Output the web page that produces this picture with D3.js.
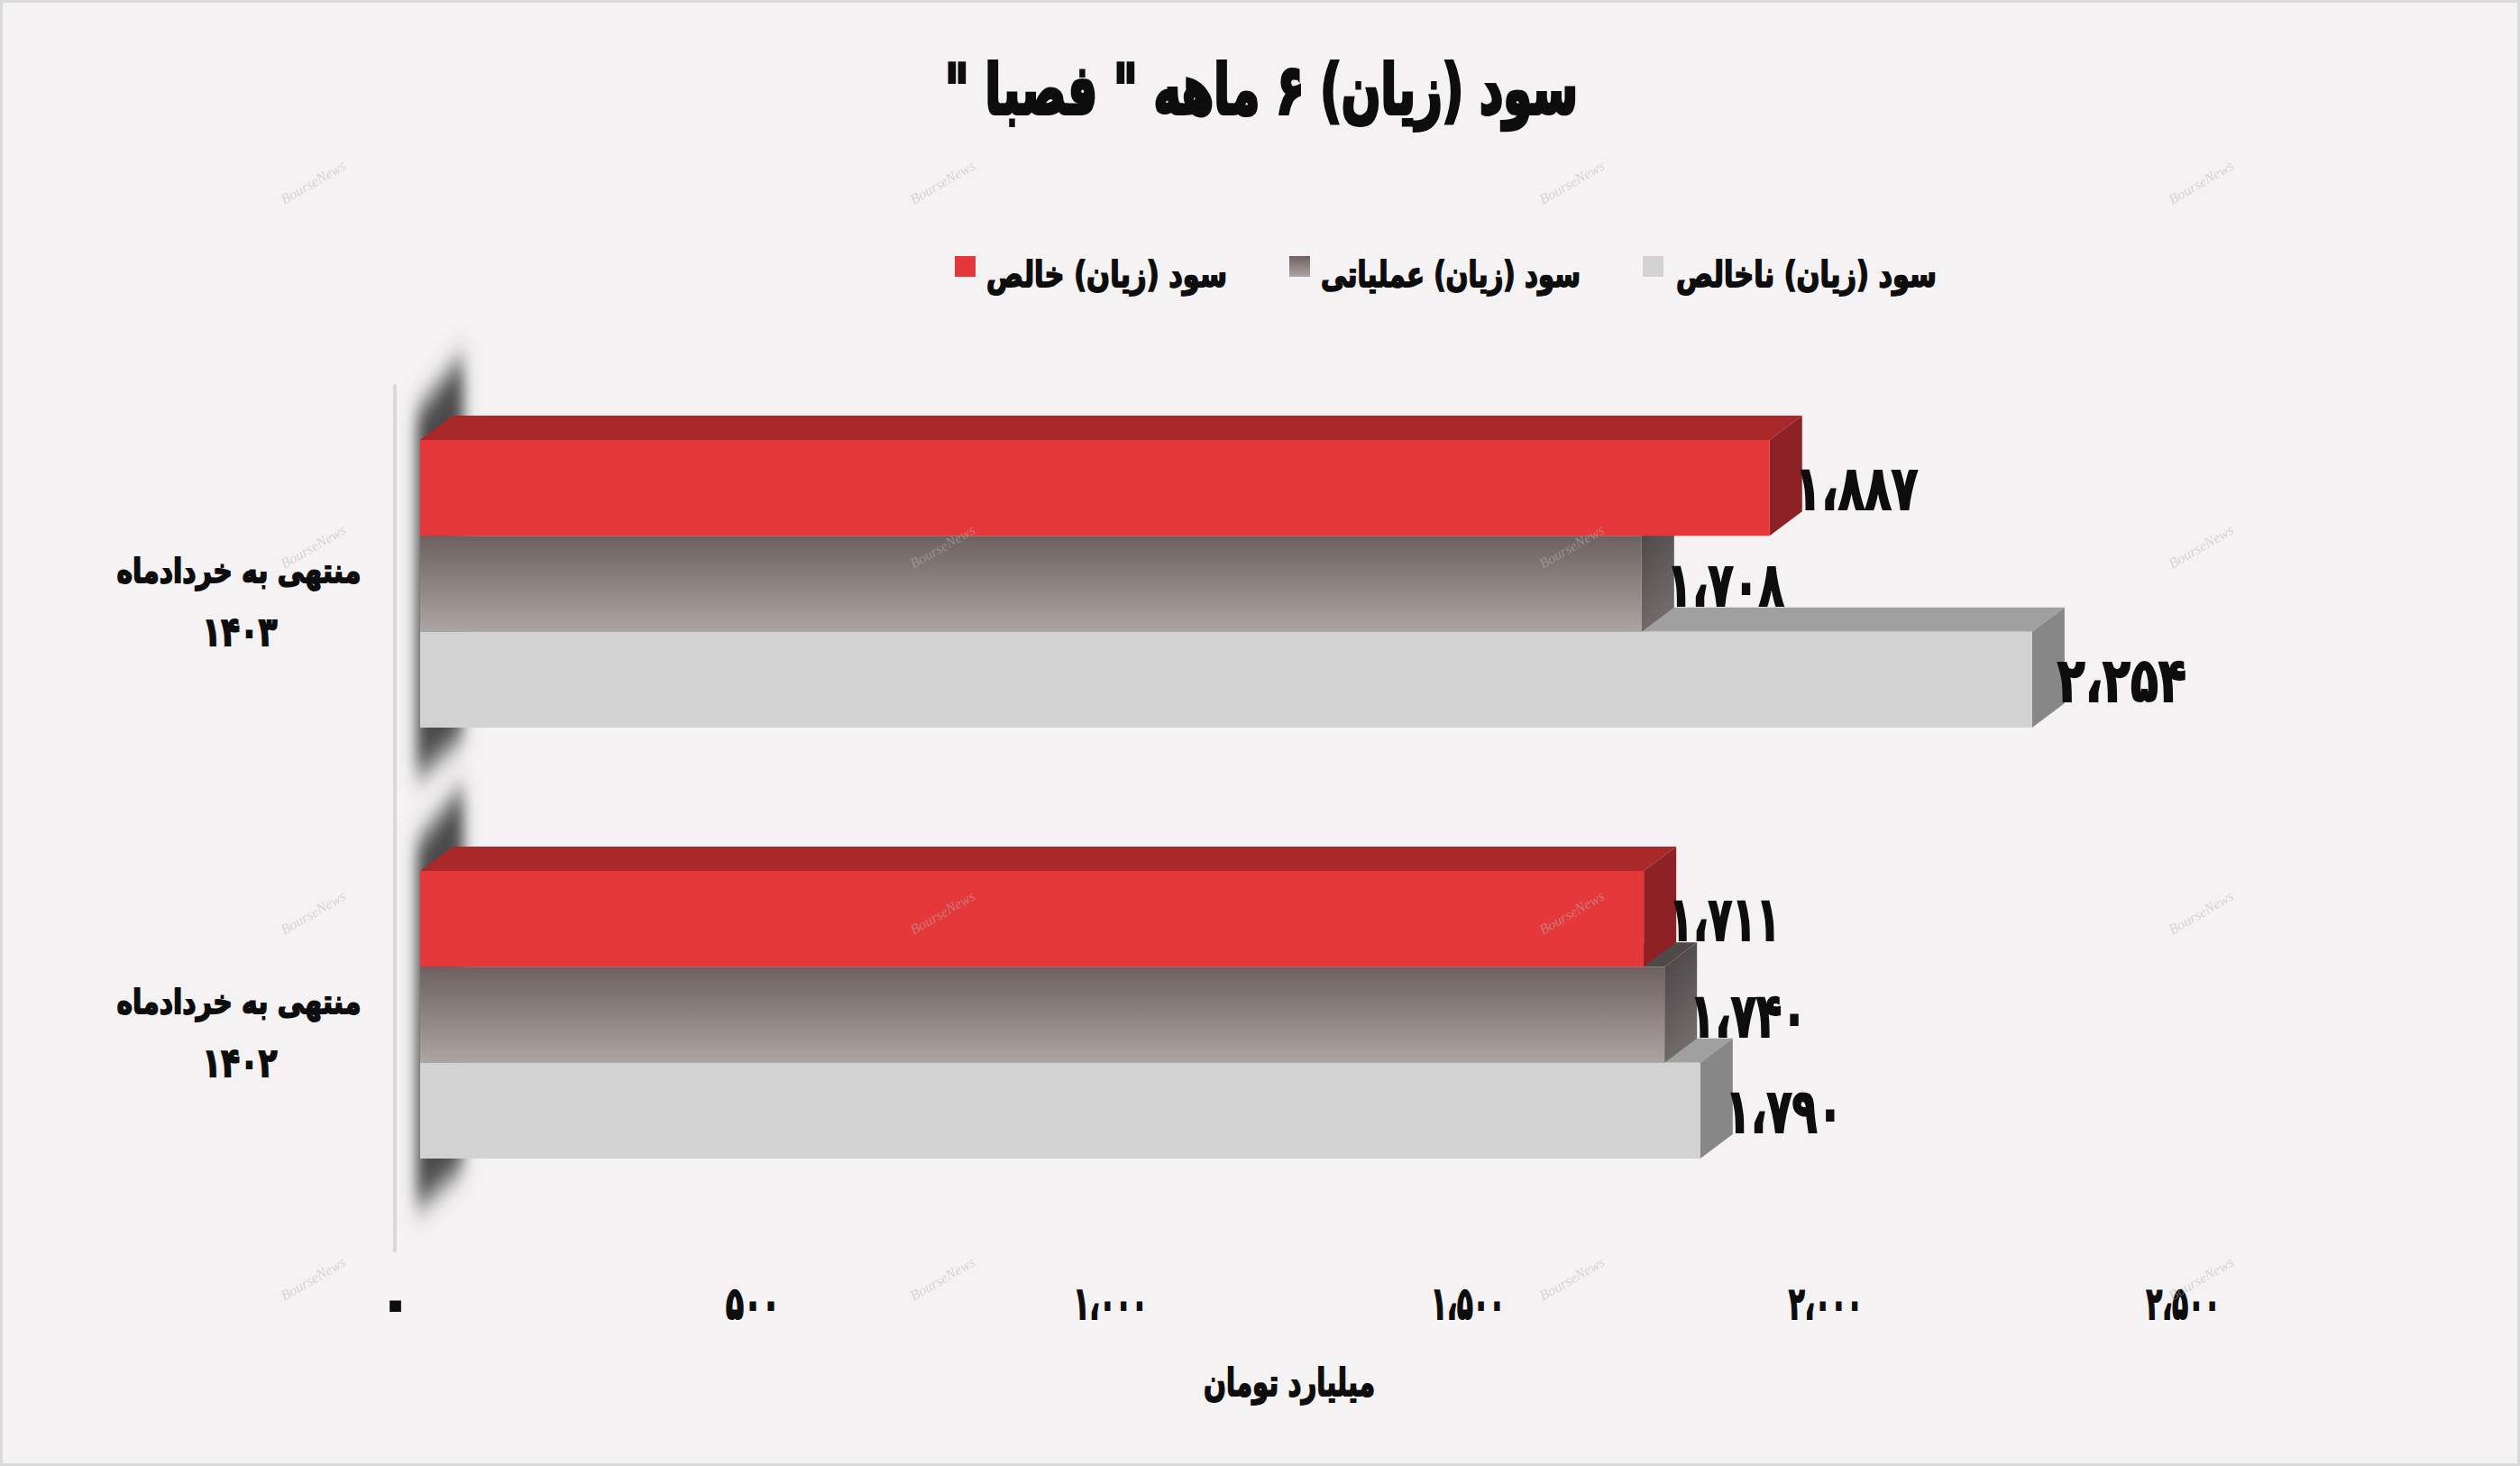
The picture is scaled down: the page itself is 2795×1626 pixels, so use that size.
<!DOCTYPE html>
<html lang="fa"><head><meta charset="utf-8">
<script src="https://cdn.jsdelivr.net/npm/d3@7/dist/d3.min.js"></script>
<style>
html,body{margin:0;padding:0;background:#f4f2f3;overflow:hidden}
svg{display:block}
text{font-family:"DejaVu Sans";font-weight:700;fill:#0d0d0d;stroke:#0d0d0d;paint-order:stroke}
</style></head><body>
<script>
const titleText = 'سود (زیان) ۶ ماهه " فصبا "';
const axisTitle = 'میلیارد تومان';
const categoryLines = [['منتهی به خردادماه','۱۴۰۳'],['منتهی به خردادماه','۱۴۰۲']];
const categories = ['1403','1402'];
const seriesNames = ['سود (زیان) ناخالص','سود (زیان) عملیاتی','سود (زیان) خالص'];
const grossProfit = [2254,1790];
const operatingProfit = [1708,1740];
const netProfit = [1887,1711];
const tickValues = [0,500,1000,1500,2000,2500];
const watermarkText = 'BourseNews';

const W=2795,H=1626;
const fa = n => d3.format(',')(n).replace(/,/g,'،').replace(/\d/g,d=>'۰۱۲۳۴۵۶۷۸۹'[+d]);
const x = d3.scaleLinear().domain([0,2500]).range([438,2421]);
const y = d3.scaleBand().domain(categories).range([428,1384]);
const svg = d3.select('body').append('svg').attr('width',W).attr('height',H);
const defs = svg.append('defs');
defs.append('filter').attr('id','blur').attr('x','-80%').attr('y','-25%').attr('width','260%').attr('height','150%')
  .append('feGaussianBlur').attr('stdDeviation','8 16');
const grad=(id,x2,y2,stops)=>{const g=defs.append('linearGradient').attr('id',id).attr('x1',0).attr('y1',0).attr('x2',x2).attr('y2',y2);
  stops.forEach((c,i)=>g.append('stop').attr('offset',i/(stops.length-1)).attr('stop-color',c));};
grad('gFront',0,1,['#6c615f','#aea4a2']);
grad('gSide',0.3,1,['#474342','#726c6b']);
const series=[
 {name:seriesNames[0],vals:grossProfit,front:'#d2d2d2',top:'#a0a0a0',side:'#878787'},
 {name:seriesNames[1],vals:operatingProfit,front:'url(#gFront)',top:'#4f4a4a',side:'url(#gSide)'},
 {name:seriesNames[2],vals:netProfit,front:'#e5383b',top:'#a9292b',side:'#8e2125'}
];
svg.append('rect').attr('x',0).attr('y',0).attr('width',W).attr('height',H).attr('fill','#f4f2f3').attr('stroke','#dadada').attr('stroke-width',6);

// helper: text fitted to a target width
function fit(sel,width,sw){return sel.attr('textLength',width).attr('lengthAdjust','spacingAndGlyphs').attr('stroke-width',sw);}

fit(svg.append('text').attr('x',1399).attr('y',126).attr('text-anchor','middle').attr('direction','rtl').attr('font-size',76).text(titleText),702,4);

// legend
const legendX=[[1822,1859,2148],[1430,1465,1753],[1059,1094,1361]];
series.forEach((s,i)=>{
  const [sx,a,b]=legendX[i];
  svg.append('rect').attr('x',sx).attr('y',284).attr('width',23).attr('height',23).attr('fill',s.front);
  fit(svg.append('text').attr('x',(a+b)/2).attr('y',318).attr('text-anchor','middle').attr('direction','rtl').attr('font-size',39).text(s.name),b-a,1.8);
});

// axis spine
svg.append('line').attr('x1',x(0)).attr('x2',x(0)).attr('y1',428).attr('y2',1387)
  .attr('stroke','#d9d9d9').attr('stroke-width',4).attr('stroke-linecap','round');

const depthX=36,depthY=27,off=28,barH=106.33;
const frontTop=c=>y(c)+y.bandwidth()/2-19.5-1.5*barH;
categories.forEach((c,ci)=>{
  const t=frontTop(c), g=svg.append('g');
  // blurred back wall
  g.append('path').attr('d',`M${x(0)+24},${t-30}L${x(0)+76},${t-94}V${t+3*barH+8}L${x(0)+24},${t+3*barH+56}Z`)
    .attr('fill','#484848').attr('filter','url(#blur)');
  series.forEach((s,si)=>{
    const top=t+(2-si)*barH, x0=x(0)+off, x1=x(s.vals[ci])+off;
    g.append('path').attr('d',`M${x0},${top}L${x0+depthX},${top-depthY}H${x1+depthX}L${x1},${top}Z`).attr('fill',s.top);
    g.append('path').attr('d',`M${x1},${top}L${x1+depthX},${top-depthY}V${top+barH-depthY}L${x1},${top+barH}Z`).attr('fill',s.side);
    g.append('rect').attr('x',x0).attr('y',top).attr('width',x1-x0).attr('height',barH).attr('fill',s.front);
  });
  series.forEach((s,si)=>{
    const top=t+(2-si)*barH, v=s.vals[ci], str=fa(v);
    const narrow=(String(v).match(/[01]/g)||[]).length;
    fit(svg.append('text').attr('x',x(v)+off+28).attr('y',top+barH/2+24).attr('direction','ltr').attr('font-size',68).text(str),143-6.5*narrow,2);
  });
  const cy=y(c)+y.bandwidth()/2;
  fit(svg.append('text').attr('x',265).attr('y',cy-21).attr('text-anchor','middle').attr('direction','rtl').attr('font-size',37).text(categoryLines[ci][0]),271,1.8);
  fit(svg.append('text').attr('x',266).attr('y',cy+49).attr('text-anchor','middle').attr('direction','rtl').attr('font-size',44).text(categoryLines[ci][1]),83,1.8);
});

// x axis labels
const ax=svg.append('g').attr('transform','translate(0,1463)').call(d3.axisBottom(x).tickValues(tickValues).tickSize(0).tickPadding(0).tickFormat(fa));
ax.select('.domain').remove();
ax.selectAll('text').attr('y',0).attr('dy',0).attr('font-size',50).attr('direction','ltr')
  .attr('stroke-width',d=>d===0?4:2)
  .style('font-family','DejaVu Sans').style('font-weight',700)
  .filter(d=>d!==0).attr('textLength',d=>d===500?60:82).attr('lengthAdjust','spacingAndGlyphs');

fit(svg.append('text').attr('x',1430).attr('y',1548).attr('text-anchor','middle').attr('direction','rtl').attr('font-size',42).text(axisTitle),190,1.8);

// watermarks
[350,1048,1746,2444].forEach(wx=>[207,611,1017,1423].forEach(wy=>{
  svg.append('text').attr('transform',`translate(${wx},${wy}) rotate(-30)`).attr('text-anchor','middle')
    .attr('font-size',16).style('font-family','Liberation Serif').style('font-weight',400).style('font-style','italic')
    .style('fill','#b5b5b5').style('stroke','none').attr('opacity',.5).text(watermarkText);
}));
</script>
</body></html>
